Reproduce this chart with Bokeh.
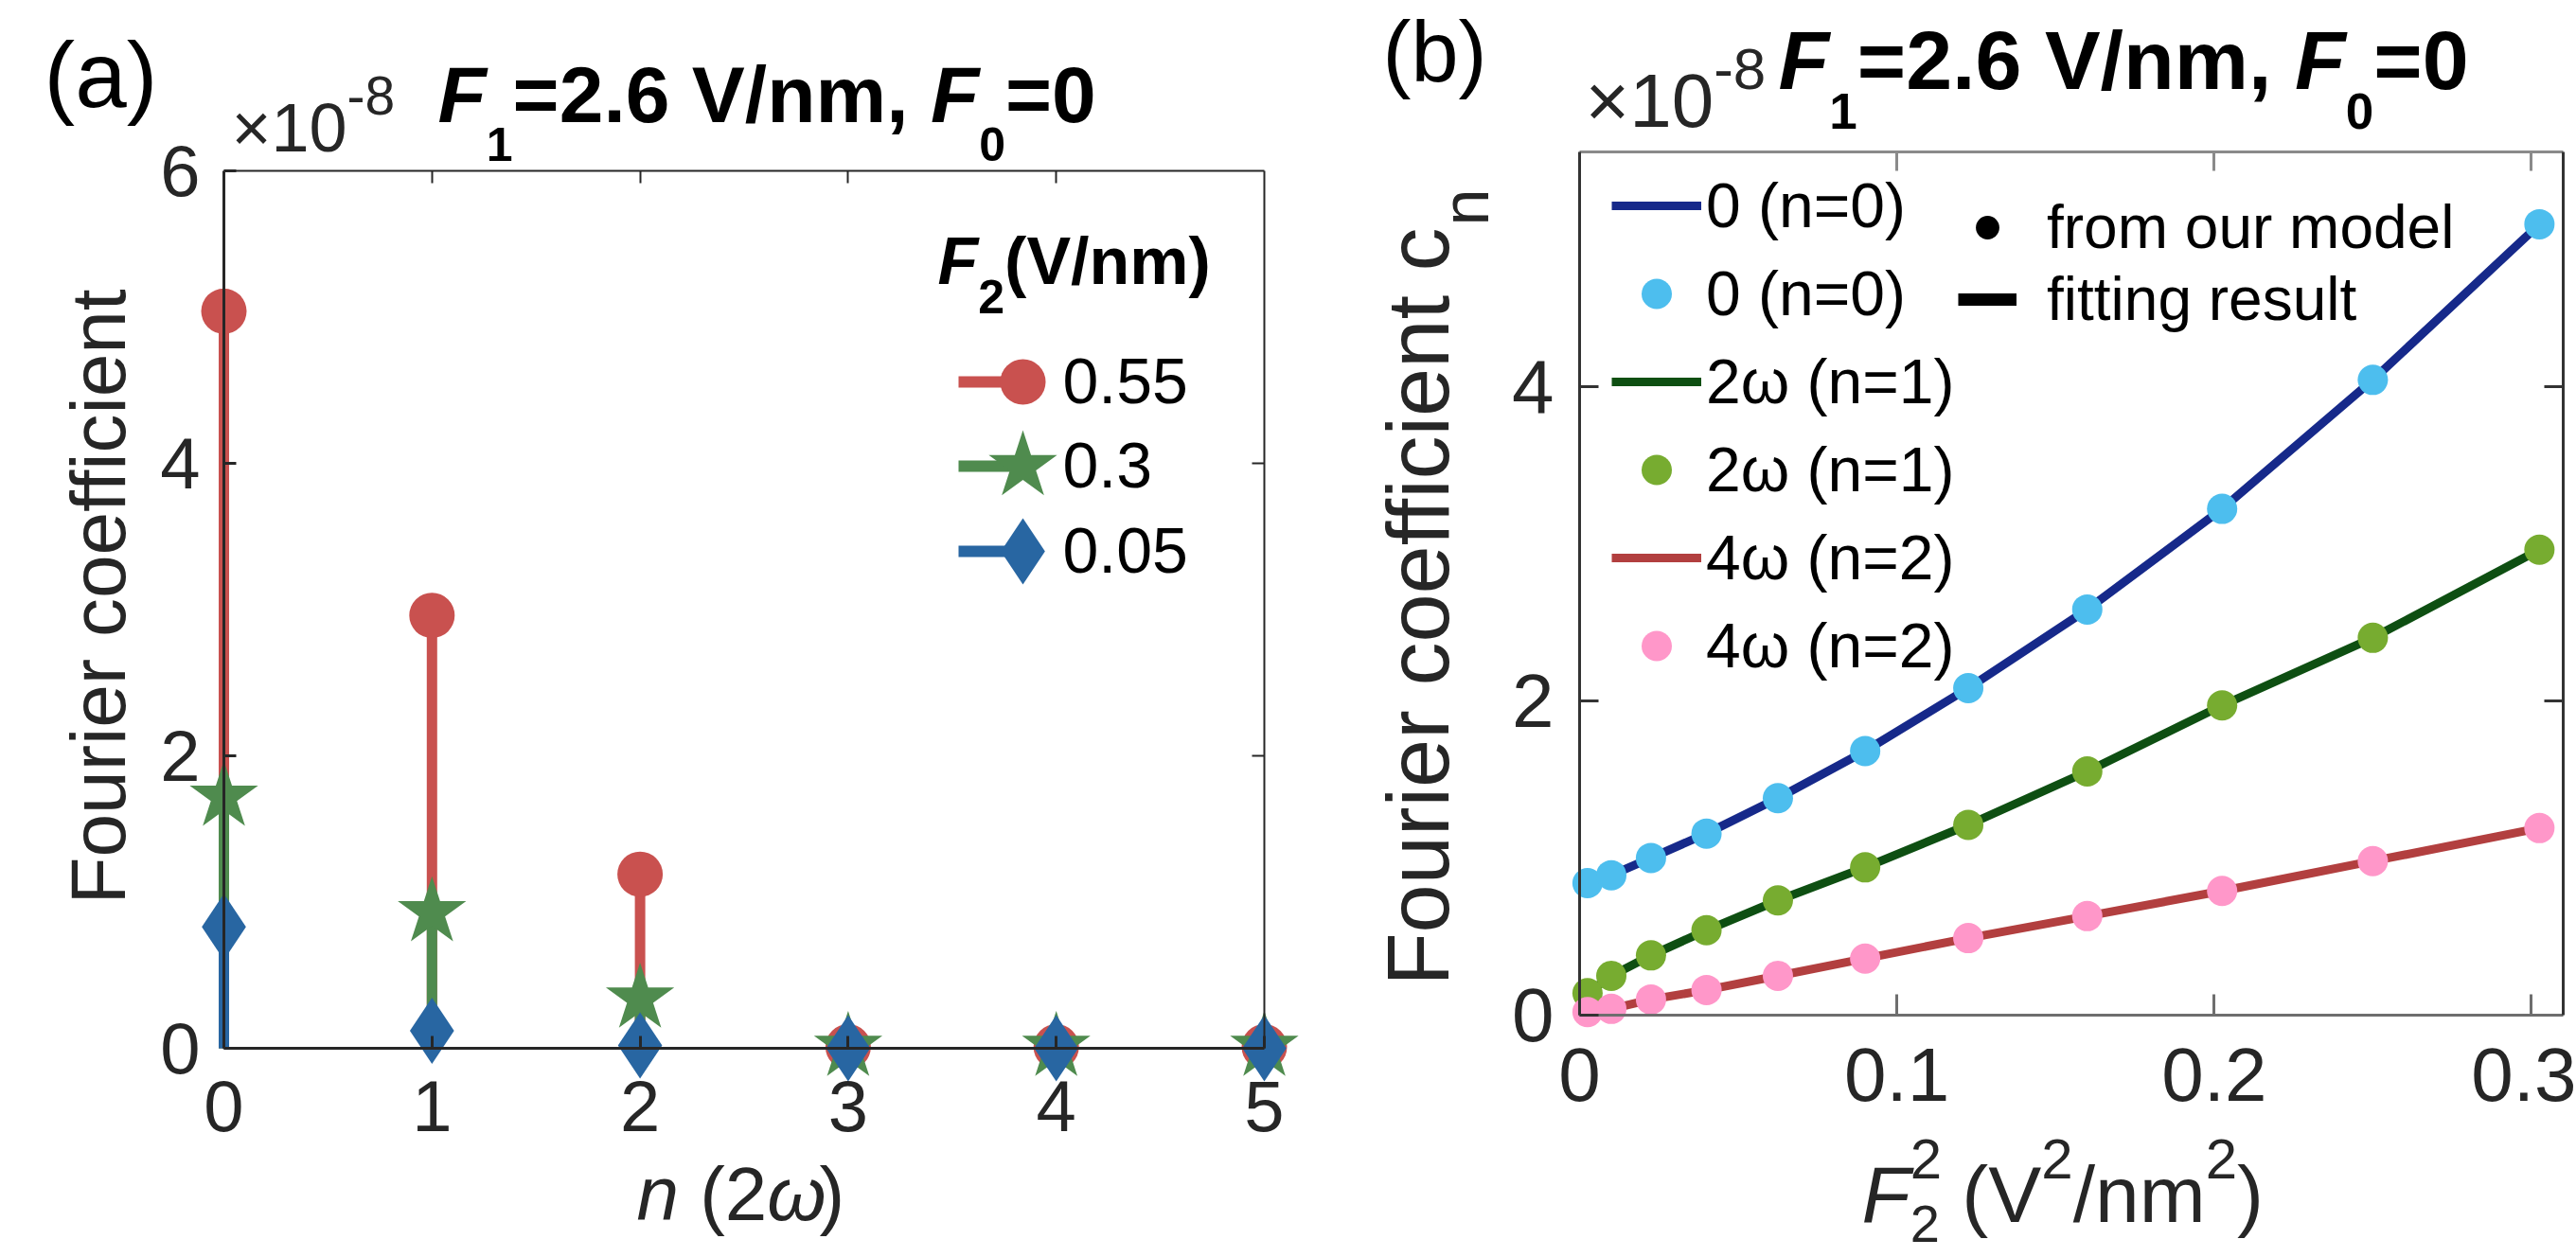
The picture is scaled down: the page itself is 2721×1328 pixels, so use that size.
import math
from bokeh.plotting import figure
from bokeh.models import (LinearAxis, FixedTicker, CustomJSTickFormatter, Label,
                          Legend, LegendItem, Range1d)
from bokeh.layouts import row
from bokeh.embed import file_html
from bokeh.resources import INLINE

# ---------------- data: panel (a) ----------------
harmonic_n = [0, 1, 2, 3, 4, 5]
coef_f2_055 = [5.04, 2.96, 1.19, 0.01, 0.01, 0.01]
coef_f2_030 = [1.72, 0.93, 0.34, 0.01, 0.01, 0.01]
coef_f2_005 = [0.83, 0.12, 0.02, 0.0, 0.0, 0.0]
a_series_labels = ["0.55", "0.3", "0.05"]
a_x_ticks = [0, 1, 2, 3, 4, 5]
a_y_ticks = [0, 2, 4, 6]

# ---------------- data: panel (b) ----------------
f2_squared = [0.0025, 0.01, 0.0225, 0.04, 0.0625, 0.09, 0.1225, 0.16, 0.2025, 0.25, 0.3025]
coef_n0 = [0.84, 0.89, 1.00, 1.155, 1.38, 1.68, 2.08, 2.58, 3.22, 4.04, 5.03]
coef_n1 = [0.14, 0.25, 0.38, 0.54, 0.73, 0.94, 1.21, 1.55, 1.97, 2.40, 2.96]
coef_n2 = [0.02, 0.04, 0.10, 0.16, 0.25, 0.36, 0.49, 0.63, 0.79, 0.98, 1.19]
b_series_labels = ["0 (n=0)", "2ω (n=1)", "4ω (n=2)"]
b_x_ticks = [0, 0.1, 0.2, 0.3]
b_y_ticks = [0, 2, 4]

FONT = "Liberation Sans"
TXT = "#262626"
RED, GREEN, BLUE = "#C9514F", "#4F8B4E", "#2866A2"
NAVY, CYAN = "#16298A", "#4DBEEE"
DKGREEN, LTGREEN = "#0E4F12", "#77AC30"
DKRED, PINK = "#B23F3F", "#FF97C9"
BASE_K = 0.40   # baseline correction (fraction of font size)

REG_W = {' ': 278, '(': 333, ')': 333, ',': 278, '-': 333, '.': 278, '/': 278, '=': 584,
         '×': 584, 'F': 611, 'V': 667, 'c': 500, 'e': 556, 'f': 278, 'i': 222, 'n': 556,
         'm': 833, 'o': 556, 'r': 333, 't': 278, 'u': 556, 'ω': 690}
BOLD_W = {' ': 278, '(': 333, ')': 333, ',': 278, '.': 278, '/': 278, '=': 584,
          'F': 611, 'V': 667, 'n': 611, 'm': 889}


def twidth(s, size, bold):
    tbl = BOLD_W if bold else REG_W
    return sum(tbl.get(c, 556) for c in s) * size / 1000.0


class Panel:
    """Figure whose frame covers the whole canvas; axes are placed with fixed_location."""

    def __init__(self, W, H, page_x0, axl, axr, x0, x1, axt, axb, y0, y1):
        self.W, self.H, self.page_x0 = W, H, page_x0
        ppx = (axr - axl) / (x1 - x0)
        ppy = (axb - axt) / (y1 - y0)
        xs = x0 - (axl - page_x0) / ppx
        ye = y1 + axt / ppy
        self.xr = (xs, xs + W / ppx)
        self.yr = (ye - H / ppy, ye)
        self.p = figure(frame_width=W, frame_height=H,
                        x_range=Range1d(*self.xr), y_range=Range1d(*self.yr),
                        output_backend="svg", toolbar_location=None,
                        x_axis_location=None, y_axis_location=None,
                        min_border=0, min_border_left=0, min_border_right=0,
                        min_border_top=0, min_border_bottom=0)
        self.p.outline_line_color = None
        self.p.grid.visible = False
        self.p.background_fill_color = "white"
        self.p.border_fill_color = "white"

    def cx(self, X):
        return self.xr[0] + (X - self.page_x0) / self.W * (self.xr[1] - self.xr[0])

    def cy(self, Y):
        return self.yr[0] + (self.H - Y) / self.H * (self.yr[1] - self.yr[0])

    def axis(self, side, loc, bounds, ticks, show, color, width, tick_in, size=76, standoff=20):
        code = "return tick.toString()" if show else "return ''"
        ax = LinearAxis(fixed_location=loc, bounds=bounds, ticker=FixedTicker(ticks=ticks),
                        formatter=CustomJSTickFormatter(code=code))
        ax.axis_line_color = color
        ax.axis_line_width = width
        ax.major_tick_line_color = color
        ax.major_tick_line_width = width
        ax.major_tick_in = tick_in
        ax.major_tick_out = 0
        ax.minor_tick_line_color = None
        ax.major_label_text_font = FONT
        ax.major_label_text_font_size = f"{size}px" if show else "10px"
        ax.major_label_text_color = TXT
        ax.major_label_standoff = standoff if show else 0
        self.p.add_layout(ax, side)

    def label(self, X, Y, txt, size, style="normal", color="black", angle=0.0, align="left"):
        # X, Y: page pixel position of the text baseline start
        if angle == 0:
            Y = Y - BASE_K * size
        else:
            X = X - BASE_K * size
        self.p.add_layout(Label(x=self.cx(X), y=self.cy(Y), text=txt, text_font=FONT,
                                text_font_size=f"{size}px", text_font_style=style,
                                text_color=color, text_baseline="alphabetic",
                                text_align=align, angle=angle))

    def rich(self, X, Y, pieces, angle=0.0):
        pos = 0.0
        for txt, size, style, shift, adv, color in pieces:
            bold = "bold" in style
            lead = len(txt) - len(txt.lstrip(" "))
            pos_txt = pos + twidth(" " * lead, size, bold)
            body = txt.strip(" ")
            if angle == 0:
                self.label(X + pos_txt, Y + shift, body, size, style, color)
            else:
                self.label(X + shift, Y - pos_txt, body, size, style, color, angle=angle)
            if adv:
                pos += twidth(txt, size, bold)


SPLIT = 1410  # page x where panel (b) starts

# ================= panel (a) =================
A = Panel(SPLIT, 1328, 0, 236, 1335, 0, 5, 180, 1107, 0, 6)
pa = A.p
A.axis("below", 0, (0, 5), a_x_ticks, True, TXT, 3, 13, 76, 34)
A.axis("left", 0, (0, 6), a_y_ticks, True, TXT, 3, 13, 76, 25)
A.axis("above", 6, (0, 5), [1, 2, 3, 4], False, TXT, 2, 13)
A.axis("right", 5, (0, 6), [2, 4], False, TXT, 2, 13)

a_series = [(coef_f2_055, RED, "circle", 48),
            (coef_f2_030, GREEN, "star", 76),
            (coef_f2_005, BLUE, "diamond", 70)]
for vals, col, mk, sz in a_series:
    pa.segment(x0=harmonic_n, y0=[0] * len(vals), x1=harmonic_n, y1=vals,
               line_color=col, line_width=11)
    pa.scatter(x=harmonic_n, y=vals, marker=mk, size=sz, fill_color=col, line_color=None)

# legend (a)
leg_rows_Y = [403, 492, 582]
for (vals, col, mk, sz), lab, Yr in zip(a_series, a_series_labels, leg_rows_Y):
    pa.segment(x0=[A.cx(1012)], y0=[A.cy(Yr)], x1=[A.cx(1080)], y1=[A.cy(Yr)],
               line_color=col, line_width=12)
    pa.scatter(x=[A.cx(1080)], y=[A.cy(Yr)], marker=mk, size=sz, fill_color=col, line_color=None)
    A.label(1122, Yr + 26, lab, 68)

A.rich(990, 303, [("F", 70, "bold italic", 0, True, "black"),
                  ("2", 50, "bold", 30, True, "black"),
                  ("(V/nm)", 70, "bold", 0, True, "black")])

# panel label, exponent, title
A.label(46, 118, "(a)", 98)
A.rich(244, 163, [("×10", 72, "normal", 0, True, TXT), ("-8", 57, "normal", -40, True, TXT)])
A.rich(462, 133, [("F", 84, "bold italic", 0, True, "black"),
                  ("1", 50, "bold", 39, True, "black"),
                  ("=2.6 V/nm, ", 84, "bold", 0, True, "black"),
                  ("F", 84, "bold italic", 0, True, "black"),
                  ("0", 50, "bold", 39, True, "black"),
                  ("=0", 84, "bold", 0, True, "black")])
# axis labels
A.rich(672, 1293, [("n", 80, "italic", 0, True, TXT), (" (2", 80, "normal", 0, True, TXT),
                   ("ω", 80, "italic", 0, True, TXT), (")", 80, "normal", 0, True, TXT)])
A.label(136, 630, "Fourier coefficient", 82, color=TXT, angle=math.pi / 2, align="center")

# ================= panel (b) =================
B = Panel(2721 - SPLIT, 1328, SPLIT, 1668, 2707, 0, 0.31, 160, 1072, 0, 5.49)
pb = B.p
B.axis("below", 0, (0, 0.31), b_x_ticks, True, "#6e6e6e", 3, 22, 80, 35)
B.axis("left", 0, (0, 5.49), b_y_ticks, True, "#333333", 3, 20, 80, 27)
B.axis("above", 5.49, (0, 0.31), [0.1, 0.2, 0.3], False, "#8a8a8a", 3, 20)
B.axis("right", 0.31, (0, 5.49), [2, 4], False, "#333333", 3, 20)

b_series = [(coef_n0, NAVY, CYAN), (coef_n1, DKGREEN, LTGREEN), (coef_n2, DKRED, PINK)]
items = []
for (vals, lc, mc), lab in zip(b_series, b_series_labels):
    rl = pb.line(x=f2_squared, y=vals, line_color=lc, line_width=9)
    rs = pb.scatter(x=f2_squared, y=vals, marker="circle", size=32, fill_color=mc, line_color=None)
    items.append(LegendItem(label=lab, renderers=[rl]))
    items.append(LegendItem(label=lab, renderers=[rs]))

leg1 = Legend(items=items, location=(1702 - SPLIT, 606), orientation="vertical",
              glyph_width=95, glyph_height=80, label_height=80, spacing=13, padding=10,
              margin=0, label_standoff=5, border_line_color=None, background_fill_alpha=0,
              label_text_font=FONT, label_text_font_size="66px", label_text_color="black")
pb.add_layout(leg1)

nan = float("nan")
r_dot = pb.scatter(x=[nan], y=[nan], marker="circle", size=25, fill_color="black", line_color=None)
r_dash = pb.line(x=[nan, nan], y=[nan, nan], line_color="black", line_width=13)
leg2 = Legend(items=[LegendItem(label="from our model", renderers=[r_dot]),
                     LegendItem(label="fitting result", renderers=[r_dash])],
              location=(2068 - SPLIT, 974), glyph_width=62, glyph_height=76, label_height=76,
              spacing=0, padding=0, margin=0, label_standoff=32, border_line_color=None,
              background_fill_alpha=0, label_text_font=FONT, label_text_font_size="64px",
              label_text_color="black")
pb.add_layout(leg2)

B.label(1460, 90, "(b)", 90)
B.rich(1674, 138, [("×10", 80, "normal", 0, True, TXT), ("-8", 62, "normal", -41, True, TXT)])
B.rich(1878, 98, [("F", 88, "bold italic", 0, True, "black"),
                  ("1", 53, "bold", 40, True, "black"),
                  ("=2.6 V/nm, ", 88, "bold", 0, True, "black"),
                  ("F", 88, "bold italic", 0, True, "black"),
                  ("0", 53, "bold", 40, True, "black"),
                  ("=0", 88, "bold", 0, True, "black")])
# x label F_2^2 (V^2/nm^2)
B.rich(1966, 1295, [("F", 84, "italic", 0, True, TXT),
                    ("2", 60, "normal", -47, False, TXT),
                    ("2", 56, "normal", 20, True, TXT),
                    (" (V", 84, "normal", 0, True, TXT),
                    ("2", 60, "normal", -47, True, TXT),
                    ("/nm", 84, "normal", 0, True, TXT),
                    ("2", 60, "normal", -47, True, TXT),
                    (")", 84, "normal", 0, True, TXT)])
# y label Fourier coefficient c_n (rotated)
B.label(1534, 240, "Fourier coefficient c", 92, color=TXT, angle=math.pi / 2, align="right")
B.rich(1575, 238, [("n", 70, "normal", 0, True, TXT)], angle=math.pi / 2)

layout = row(pa, pb)
open("out.html", "w").write(file_html(layout, INLINE))
